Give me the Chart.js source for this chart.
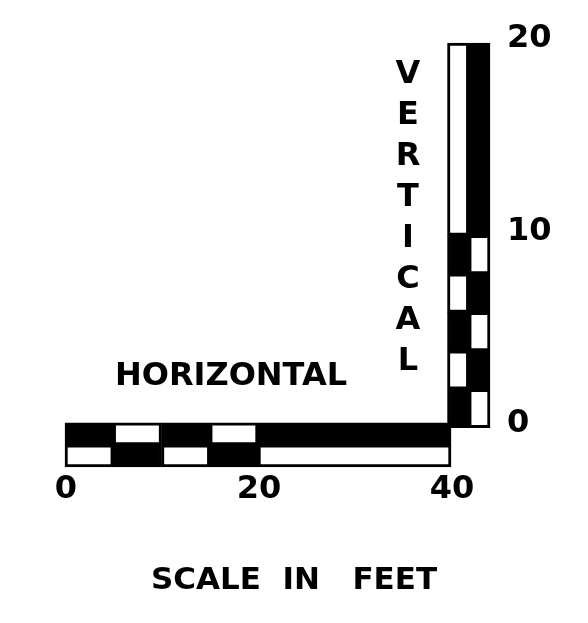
<!DOCTYPE html>
<html>
<head>
<meta charset="utf-8">
<script src="https://cdn.jsdelivr.net/npm/chart.js@4/dist/chart.umd.min.js"></script>
<style>
  html, body { margin: 0; padding: 0; background: #ffffff; }
  #wrap { width: 588px; height: 623px; }
</style>
</head>
<body>
<div id="wrap"><canvas id="c" width="588" height="623"></canvas></div>
<script>
// ---- data ----
const xTickValues = [0, 20, 40];          // horizontal scale, feet
const yTickValues = [0, 10, 20];          // vertical scale, feet
const hSegments = [[0, 5], [5, 10], [10, 15], [15, 20], [20, 40]];
const hTopDark = [true, false, true, false, true];
const hBottomDark = [false, true, false, true, false];
const vSegments = [[0, 2], [2, 4], [4, 6], [6, 8], [8, 10], [10, 20]];
const vLeftDark = [true, false, true, false, true, false];
const vRightDark = [false, true, false, true, false, true];
const hRows = [1.5, 0.5];   // top row, bottom row
const vCols = [0.5, 1.5];   // left column, right column
const labelH = 'HORIZONTAL';
const labelV = 'VERTICAL';
const titleText = 'SCALE  IN   FEET';

const DARK = '#000000';
const LIGHT = '#ffffff';
const FONT = '"DejaVu Sans", sans-serif';

const barCommon = {
  grouped: false,
  categoryPercentage: 1,
  barPercentage: 1,
  borderWidth: 3,
  borderColor: DARK,
  borderSkipped: false,
  clip: false
};

const datasets = [];
hSegments.forEach((seg, i) => {
  datasets.push(Object.assign({
    label: 'h' + i,
    indexAxis: 'y',
    xAxisID: 'x',
    yAxisID: 'yh',
    data: [{ x: seg, y: hRows[0] }, { x: seg, y: hRows[1] }],
    backgroundColor: [hTopDark[i] ? DARK : LIGHT, hBottomDark[i] ? DARK : LIGHT]
  }, barCommon));
});
vSegments.forEach((seg, i) => {
  datasets.push(Object.assign({
    label: 'v' + i,
    indexAxis: 'x',
    xAxisID: 'xv',
    yAxisID: 'y',
    data: [{ x: vCols[0], y: seg }, { x: vCols[1], y: seg }],
    backgroundColor: [vLeftDark[i] ? DARK : LIGHT, vRightDark[i] ? DARK : LIGHT]
  }, barCommon));
});

const textPlugin = {
  id: 'scaleText',
  afterDraw(chart) {
    const ctx = chart.ctx;
    ctx.save();
    ctx.fillStyle = DARK;
    ctx.textAlign = 'center';
    ctx.textBaseline = 'middle';
    ctx.font = 'bold 32px ' + FONT;
    ctx.fillText(labelH, 231, 377);
    labelV.split('').forEach((ch, i) => {
      ctx.fillText(ch, 408, 75 + i * 41);
    });
    ctx.restore();
  }
};

const hiddenGrid = { display: false, drawTicks: false, offset: false };

new Chart(document.getElementById('c'), {
  type: 'bar',
  data: { datasets },
  plugins: [textPlugin],
  options: {
    responsive: false,
    animation: false,
    events: [],
    layout: { padding: 0 },
    plugins: {
      legend: { display: false },
      tooltip: { enabled: false },
      title: {
        display: true,
        position: 'bottom',
        text: titleText,
        color: DARK,
        font: { family: FONT, size: 31, weight: 'bold' },
        padding: { top: 56, bottom: 23 }
      }
    },
    scales: {
      x: {
        type: 'linear', axis: 'x', position: 'bottom', offset: false,
        min: 0, max: 44.04,
        grid: hiddenGrid,
        border: { display: false },
        afterBuildTicks: (s) => { s.ticks = xTickValues.map(v => ({ value: v })); },
        afterFit: (s) => { s.height = 40; },
        ticks: { color: DARK, padding: 4, labelOffset: 1, font: { family: FONT, size: 32, weight: 'bold' } }
      },
      xv: {
        type: 'linear', axis: 'x', position: 'top', offset: false,
        min: -18, max: 2,
        grid: hiddenGrid,
        border: { display: false },
        ticks: { display: false, stepSize: 5 },
        afterFit: (s) => { s.height = 43; }
      },
      yh: {
        type: 'linear', axis: 'y', position: 'left', offset: false,
        min: 0, max: 19.27,
        grid: hiddenGrid,
        border: { display: false },
        ticks: { display: false, stepSize: 5 },
        afterFit: (s) => { s.width = 65; }
      },
      y: {
        type: 'linear', axis: 'y', position: 'right', offset: false,
        min: -2.03, max: 20,
        grid: hiddenGrid,
        border: { display: false },
        afterBuildTicks: (s) => { s.ticks = yTickValues.map(v => ({ value: v })); },
        afterFit: (s) => { s.width = 98; },
        ticks: { color: DARK, padding: 17, labelOffset: -4, font: { family: FONT, size: 32, weight: 'bold' } }
      }
    }
  }
});
</script>
</body>
</html>
